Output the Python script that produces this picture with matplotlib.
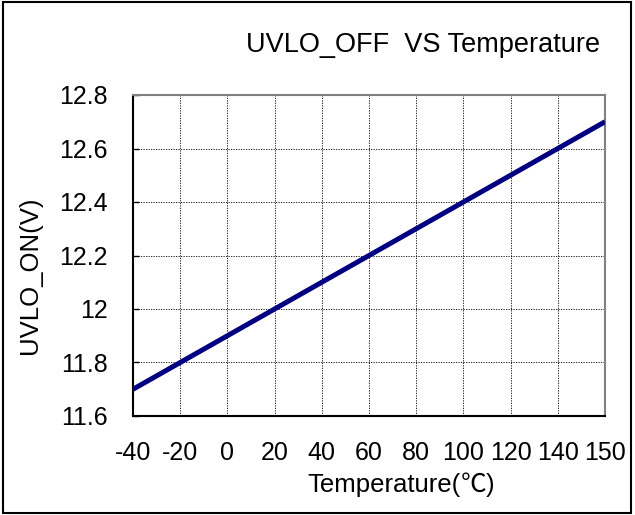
import numpy as np
import matplotlib
matplotlib.use("Agg")
import matplotlib.pyplot as plt
from matplotlib.patches import Rectangle

plt.rcParams['font.family'] = ['Liberation Sans', 'DejaVu Sans', 'Noto Sans CJK SC']

temps = ["-40", "-20", "0", "20", "40", "60", "80", "100", "120", "140", "150"]
uvlo = [11.7, 11.8, 11.9, 12.0, 12.1, 12.2, 12.3, 12.4, 12.5, 12.6, 12.7]
yticks = [11.6, 11.8, 12.0, 12.2, 12.4, 12.6, 12.8]
ylabels = ["11.6", "11.8", "12", "12.2", "12.4", "12.6", "12.8"]

W, H = 635, 515
fig = plt.figure(figsize=(W / 100, H / 100), dpi=100)
ax = fig.add_axes([133/W, 1 - 416/H, (605-133)/W, (416-95)/H])

x = np.arange(len(temps))
ax.plot(x, uvlo, color="#000080", lw=3.6, solid_capstyle="butt", zorder=3)

ax.set_xlim(0, len(temps) - 1)
ax.set_ylim(11.6, 12.8)
ax.set_xticks(x)
ax.set_xticklabels(temps)
ax.set_yticks(yticks)
ax.set_yticklabels(ylabels)
ax.tick_params(labelsize=18, direction="in", length=4, width=1, pad=18)
ax.tick_params(axis="x", length=0, pad=18)
ax.grid(True, color="black", linestyle=(0, (1.5, 1.5)), lw=0.6)

for s in ["top", "right"]:
    ax.spines[s].set_color("#808080")
    ax.spines[s].set_linewidth(1.5)
for s in ["left", "bottom"]:
    ax.spines[s].set_color("black")
    ax.spines[s].set_linewidth(1.5)

fig.text(423/W, 1 - 52/H, "UVLO_OFF  VS Temperature", fontsize=19.5,
         ha="center", va="baseline")
fig.text(30/W, 1 - 275/H, "UVLO_ON(V)", fontsize=18.5, rotation=90,
         ha="center", va="center")

# x label in pieces so the degree sign uses the CJK full-width glyph
pieces = [("Temperature(", ['Liberation Sans']),
          ("℃", ['Noto Sans CJK SC']),
          (")", ['Liberation Sans'])]
fig.canvas.draw()
r = fig.canvas.get_renderer()
texts = []
for s, fam in pieces:
    t = fig.text(0, 1 - 492/H, s, fontsize=18.5, family=fam, va="baseline", ha="left")
    texts.append(t)
widths = [t.get_window_extent(r).width for t in texts]
xpos = 401 - sum(widths) / 2
for t, w in zip(texts, widths):
    t.set_x(xpos / W)
    xpos += w

fig.patches.append(Rectangle((0.004, 0.004), 0.99, 0.992, transform=fig.transFigure,
                             fill=False, edgecolor="black", lw=1.5))

fig.savefig("out.png", dpi=100)
